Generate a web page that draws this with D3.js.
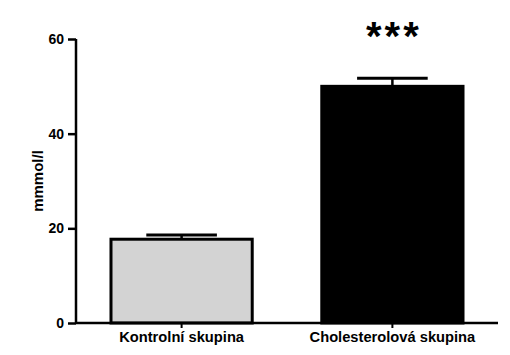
<!DOCTYPE html>
<html><head><meta charset="utf-8">
<script src="https://cdn.jsdelivr.net/npm/d3@7"></script>
<style>body{margin:0;background:#fff}</style>
</head><body>
<svg id="c" width="510" height="355"></svg>
<script>
const categories = ["Kontrolní skupina", "Cholesterolová skupina"];
const means = [17.7, 50.0];
const errors = [0.9, 1.7];
const fills = ["#d3d3d3", "#000000"];
const yTicks = [0, 20, 40, 60];
const significance = ["", "***"];
const yLabel = "mmmol/l";

const svg = d3.select("#c");
const font = "Liberation Sans, Arial, sans-serif";
const y = d3.scaleLinear().domain([0, 60]).range([323, 39]);
const x = d3.scaleBand().domain(categories).range([76, 498]).paddingInner(0.33).paddingOuter(0.166);

// bars
svg.selectAll("rect.bar").data(categories).join("rect")
  .attr("x", d => x(d)).attr("width", x.bandwidth())
  .attr("y", (d, i) => y(means[i])).attr("height", (d, i) => y(0) - y(means[i]))
  .attr("fill", (d, i) => fills[i]).attr("stroke", "#000").attr("stroke-width", 3);

// error bars
const capW = x.bandwidth() * 0.5;
categories.forEach((c, i) => {
  const cx = x(c) + x.bandwidth() / 2;
  svg.append("line").attr("x1", cx).attr("x2", cx)
    .attr("y1", y(means[i])).attr("y2", y(means[i] + errors[i]))
    .attr("stroke", "#000").attr("stroke-width", 2.5);
  svg.append("line").attr("x1", cx - capW / 2).attr("x2", cx + capW / 2)
    .attr("y1", y(means[i] + errors[i])).attr("y2", y(means[i] + errors[i]))
    .attr("stroke", "#000").attr("stroke-width", 3);
  if (significance[i]) {
    svg.append("text").attr("x", cx + 1.5).attr("y", 50).attr("text-anchor", "middle")
      .attr("font-family", font).attr("font-weight", "bold").attr("font-size", 40)
      .attr("letter-spacing", 3)
      .text(significance[i]);
  }
});

// y axis
const yAxis = svg.append("g").attr("transform", "translate(76,0)")
  .call(d3.axisLeft(y).tickValues(yTicks).tickSize(8).tickPadding(4));
yAxis.select(".domain").attr("stroke-width", 2.5).attr("d", `M0,${y(60)}V${y(0)}`);
yAxis.selectAll(".tick line").attr("stroke-width", 2.5);
yAxis.selectAll("text").attr("font-family", font).attr("font-weight", "bold").attr("font-size", 14).attr("fill", "#000");

// x axis
const xAxis = svg.append("g").attr("transform", "translate(0,323)")
  .call(d3.axisBottom(x).tickSize(5).tickPadding(4));
xAxis.select(".domain").attr("stroke-width", 2.5).attr("d", "M76,0H498");
xAxis.selectAll(".tick line").attr("stroke-width", 2);
xAxis.selectAll("text").attr("font-family", font).attr("font-weight", "bold").attr("font-size", 14.7).attr("fill", "#000");

// y label
svg.append("text").attr("transform", "translate(43,181) rotate(-90)")
  .attr("text-anchor", "middle").attr("font-family", font).attr("font-weight", "bold")
  .attr("font-size", 15).text(yLabel);
</script>
</body></html>
